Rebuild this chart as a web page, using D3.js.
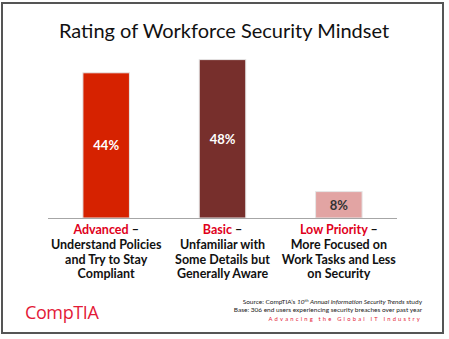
<!DOCTYPE html>
<html>
<head>
<meta charset="utf-8">
<script src="https://cdn.jsdelivr.net/npm/d3@7"></script>
<style>
  html, body { margin: 0; padding: 0; background: #fff; }
  svg { display: block; font-family: Lato, "Open Sans", sans-serif; }
</style>
</head>
<body>
<svg id="chart" width="449" height="339"></svg>
<script>
const categories = ["Advanced", "Basic", "Low Priority"];
const values = [44, 48, 8];
const barColors = ["#d62200", "#772f2c", "#e2a4a3"];
const valueColors = ["#ffffff", "#ffffff", "#333333"];
const descriptions = [
  ["Understand Policies", "and Try to Stay", "Compliant"],
  ["Unfamiliar with", "Some Details but", "Generally Aware"],
  ["More Focused on", "Work Tasks and Less", "on Security"]
];
const footnotes = [
  "Source: CompTIA’s 10th Annual Information Security Trends study",
  "Base: 306 end users experiencing security breaches over past year"
];

const svg = d3.select("#chart");

// frame
svg.append("rect").attr("x", 2).attr("y", 3).attr("width", 441).attr("height", 330)
  .attr("fill", "#fff").attr("stroke", "#555").attr("stroke-width", 2);

svg.append("text").attr("x", 224).attr("y", 38).attr("text-anchor", "middle")
  .attr("font-size", 20).attr("fill", "#111")
  .text("Rating of Workforce Security Mindset");

const x = d3.scaleBand().domain(categories).range([48, 397])
  .paddingInner(0.6).paddingOuter(0.3);
const y = d3.scaleLinear().domain([0, 50]).range([218, 53]);

const bars = svg.append("g").selectAll("g").data(categories).enter().append("g");

bars.append("rect")
  .attr("x", (d) => x(d))
  .attr("y", (d, i) => y(values[i]))
  .attr("width", x.bandwidth())
  .attr("height", (d, i) => y(0) - y(values[i]))
  .attr("fill", (d, i) => barColors[i])
  .attr("stroke", "#e6e6e6").attr("stroke-width", 1);

bars.append("text")
  .attr("x", (d) => x(d) + x.bandwidth() / 2)
  .attr("y", (d, i) => (y(values[i]) + y(0)) / 2 + 5)
  .attr("text-anchor", "middle").attr("font-weight", "bold").attr("font-size", 13)
  .attr("fill", (d, i) => valueColors[i])
  .text((d, i) => values[i] + "%");

// baseline
svg.append("line").attr("x1", 48).attr("x2", 397).attr("y1", 218.5).attr("y2", 218.5)
  .attr("stroke", "#a6a6a6").attr("stroke-width", 1);

// category labels
const labels = svg.append("g").selectAll("text").data(categories).enter().append("text")
  .attr("text-anchor", "middle").attr("font-weight", "bold").attr("font-size", 12.5)
  .attr("fill", "#111");
labels.each(function (d, i) {
  const t = d3.select(this);
  const cx = x(d) + x.bandwidth() / 2;
  const first = t.append("tspan").attr("x", cx).attr("y", 234);
  first.append("tspan").attr("fill", "#e0001b").text(d);
  first.append("tspan").text(" –");
  descriptions[i].forEach((line, j) => {
    t.append("tspan").attr("x", cx).attr("y", 249 + j * 14.5).text(line);
  });
});

// footer
const foot = svg.append("g").attr("font-size", 6.5).attr("fill", "#222").attr("text-anchor", "end");
const src = foot.append("text").attr("x", 422).attr("y", 304);
src.append("tspan").text("Source: CompTIA’s ");
src.append("tspan").attr("font-style", "italic").text("10");
src.append("tspan").attr("font-style", "italic").attr("font-size", 4.5).attr("dy", -2.5).text("th");
src.append("tspan").attr("font-style", "italic").attr("dy", 2.5).text(" Annual Information Security Trends");
src.append("tspan").text(" study");
foot.append("text").attr("x", 422).attr("y", 312).text(footnotes[1]);
foot.append("text").attr("x", 422).attr("y", 321).attr("fill", "#e31937")
  .attr("font-size", 5.8).attr("letter-spacing", 2.2).text("Advancing the Global IT Industry");

svg.append("text").attr("x", 25).attr("y", 319).attr("font-size", 18)
  .attr("font-family", "'Open Sans', sans-serif").attr("fill", "#e31937")
  .attr("letter-spacing", -0.4).text("CompTIA");
</script>
</body>
</html>
